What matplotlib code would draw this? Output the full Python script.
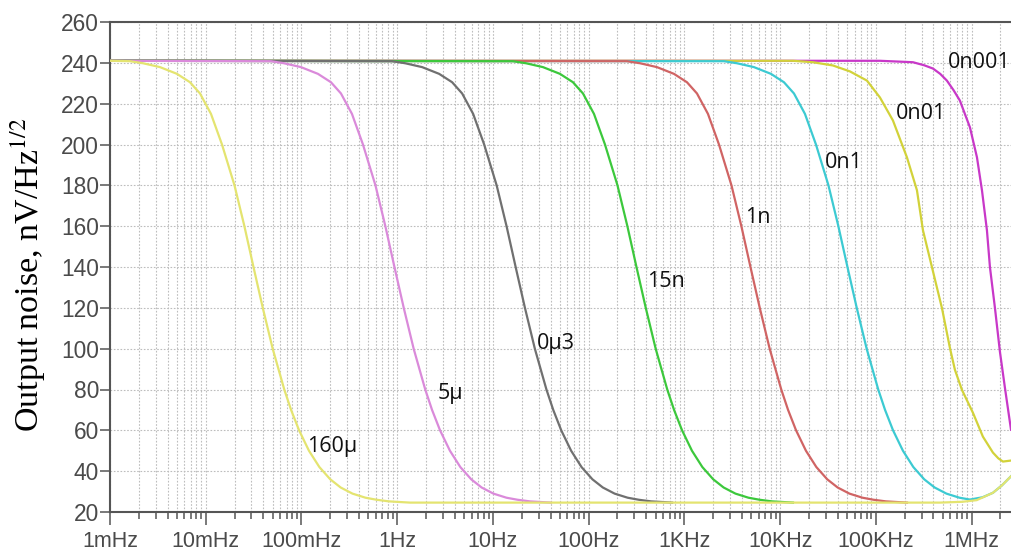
import numpy as np
import matplotlib.pyplot as plt
from matplotlib.ticker import FixedLocator, LogLocator, NullFormatter

# noise spectral density vs frequency for several filter capacitor values
f_160u = [1e-3, 1.617e-3, 2.211e-3, 3.328e-3, 5.009e-3, 6.844e-3, 8.709e-3, 11.345e-3, 14.787e-3,
          19.968e-3, 25.341e-3, 31.535e-3, 39.428e-3, 50.037e-3, 66.135e-3, 77.908e-3, 94.414e-3,
          0.11979, 0.15388, 0.19996, 0.25676, 0.34106, 0.46627, 0.60878, 0.82051, 1.3598,
          4.67e5, 8.0e5, 1.13e6, 1.67e6, 2.07e6, 2.58e6]
v_160u = [241, 240.8, 239.8, 237.9, 234.6, 230.5, 225, 215, 200, 180, 160, 140, 120, 100,
          80, 70, 60, 50, 42, 36, 32, 29, 27, 26, 25.2, 24.6,
          24.6, 25.0, 25.8, 29.4, 33.0, 37.5]

f_5u = [1e-3, 0.0480, 0.0656, 0.0988, 0.1487, 0.2032, 0.2585, 0.3368, 0.4389, 0.5927,
        0.7522, 0.9360, 1.1703, 1.4852, 1.9631, 2.3125, 2.8025, 3.5557, 4.5674, 5.9354,
        7.6212, 10.123, 13.840, 18.070, 24.355, 40.36]
v_5u = [241, 240.8, 239.8, 237.9, 234.6, 230.5, 225, 215, 200, 180, 160, 140, 120, 100,
        80, 70, 60, 50, 42, 36, 32, 29, 27, 26, 25.2, 24.6]

f_0u3 = [1e-3, 0.8857, 1.2108, 1.8224, 2.7429, 3.7481, 4.7693, 6.2128, 8.0978, 10.935,
         13.877, 17.269, 21.591, 27.401, 36.217, 42.664, 51.703, 65.600, 84.266, 109.50,
         140.61, 186.77, 255.34, 333.38, 449.33, 744.65]
v_0u3 = [241, 240.8, 239.8, 237.9, 234.6, 230.5, 225, 215, 200, 180, 160, 140, 120, 100,
         80, 70, 60, 50, 42, 36, 32, 29, 27, 26, 25.2, 24.6]

f_15n = [1e-3, 16.196, 22.141, 33.325, 50.157, 68.538, 87.212, 113.61, 148.08, 199.96,
         253.76, 315.79, 394.83, 501.07, 662.27, 780.17, 945.45, 1199.6, 1540.9, 2002.4,
         2571.1, 3415.4, 4669.2, 6096.3, 8216.5, 13617]
v_15n = [241, 240.8, 239.8, 237.9, 234.6, 230.5, 225, 215, 200, 180, 160, 140, 120, 100,
         80, 70, 60, 50, 42, 36, 32, 29, 27, 26, 25.2, 24.6]

f_1n = [1e-3, 251.3, 343.5, 517.0, 778.1, 1063.3, 1353.0, 1762.5, 2297.3, 3102.2,
        3936.9, 4899.2, 6125.4, 7773.6, 10275, 12104, 14668, 18610, 23906, 31066,
        39889, 52986, 72438, 94579, 127470, 211250]
v_1n = [241, 240.8, 239.8, 237.9, 234.6, 230.5, 225, 215, 200, 180, 160, 140, 120, 100,
        80, 70, 60, 50, 42, 36, 32, 29, 27, 26, 25.2, 24.6]

f_0n1 = [1e-3, 2590, 3540, 5329, 8020, 10959, 13945, 18166, 23677, 31973,
         40576, 50494, 63132, 80119, 105895, 124746, 151175, 191808, 246385, 320177,
         411118, 546105, 746588, 9.61e5, 1.3e6, 1.67e6, 2.07e6, 2.58e6]
v_0n1 = [241, 240.8, 239.8, 237.9, 234.6, 230.5, 225, 215, 200, 180, 160, 140, 120, 100,
         80, 70, 60, 50, 42, 36, 32, 29, 27, 26.1, 27.2, 29.4, 33.0, 37.5]

f_0n01 = [1e-3, 13620, 22000, 35650, 53600, 80700, 1.104e5, 1.507e5, 2.112e5, 2.686e5,
          3.104e5, 3.855e5, 4.90e5, 5.94e5, 6.70e5, 7.93e5, 1.033e6, 1.313e6, 1.67e6,
          1.9e6, 2.125e6, 2.58e6]
v_0n01 = [241, 241, 240.3, 238.7, 235.8, 231.3, 223.0, 211.8, 193.7, 177.6,
          158.0, 139.9, 119.9, 100.3, 89.6, 79.8, 68.6, 56.9, 49.1,
          46.3, 44.7, 45.2]

f_0n001 = [1e-3, 1.104e5, 2.44e5, 3.2e5, 3.95e5, 4.7e5, 5.52e5, 6.5e5, 7.55e5, 8.6e5,
           9.61e5, 1.138e6, 1.283e6, 1.446e6, 1.555e6, 1.754e6, 1.978e6, 2.230e6, 2.58e6]
v_0n001 = [241, 241, 240.3, 238.8, 237.2, 234.6, 231.3, 226.5, 221.5, 214.4,
           208.4, 193.7, 177.6, 158.0, 139.9, 119.9, 98.4, 80.8, 60.3]

labels = ['160µ', '5µ', '0µ3', '15n', '1n', '0n1', '0n01', '0n001']
colors = ['#e4e470', '#da8ada', '#707070', '#3cc83c', '#d06464', '#3ccad2', '#d2d23a', '#c838c8']
label_f = [0.114, 2.67, 28.8, 406, 4295, 29400, 1.62e5, 5.66e5]
label_v = [52.0, 77.9, 102.3, 133.1, 164.4, 191.3, 215.2, 240.2]

tick_f = [1e-3, 1e-2, 1e-1, 1, 10, 100, 1e3, 1e4, 1e5, 1e6]
tick_lbl = ['1mHz', '10mHz', '100mHz', '1Hz', '10Hz', '100Hz', '1KHz', '10KHz', '100KHz', '1MHz']
yticks = np.arange(20, 261, 20)

freqs = [f_160u, f_5u, f_0u3, f_15n, f_1n, f_0n1, f_0n01, f_0n001]
vals = [v_160u, v_5u, v_0u3, v_15n, v_1n, v_0n1, v_0n01, v_0n001]

plt.rcParams['mathtext.fontset'] = 'stix'

fig = plt.figure(figsize=(10.11, 5.51), dpi=100)
ax = fig.add_axes([110/1011, 39/551, 901/1011, 490/551])

# draw the highest corner frequency first so the lower ones sit on top
for i in reversed(range(len(labels))):
    ax.plot(freqs[i], vals[i], color=colors[i], lw=1.6, zorder=3 + (len(labels) - i) * 0.01,
            solid_joinstyle='round')
    ax.text(label_f[i], label_v[i], labels[i], fontsize=15.5, family='Open Sans',
            ha='left', va='center', color='#111111', zorder=5)

ax.set_xscale('log')
ax.set_xlim(1e-3, 2.58e6)
ax.set_ylim(20, 260)

ax.xaxis.set_major_locator(FixedLocator(tick_f))
ax.set_xticklabels(tick_lbl)
ax.xaxis.set_minor_locator(LogLocator(base=10, subs=np.arange(2, 10), numticks=30))
ax.xaxis.set_minor_formatter(NullFormatter())
ax.set_yticks(yticks)

grid_kw = dict(color='#bdbdbd', linestyle=(0, (1.5, 1.5)), linewidth=0.8)
ax.grid(True, which='both', axis='x', **grid_kw)
ax.grid(True, which='major', axis='y', **grid_kw)
ax.set_axisbelow(True)

for s in ['left', 'bottom', 'top']:
    ax.spines[s].set_color('#555555')
    ax.spines[s].set_linewidth(1.5)
ax.spines['right'].set_visible(False)

ax.tick_params(axis='x', which='major', length=9.5, width=1.1, color='#555555',
               labelsize=15.5, labelcolor='#4a4a4a', pad=4)
ax.tick_params(axis='x', which='minor', length=5, width=1.1, color='#555555')
ax.tick_params(axis='y', length=7, width=1.1, color='#555555',
               labelsize=16.4, labelcolor='#4a4a4a', pad=1)
for t in ax.get_xticklabels() + ax.get_yticklabels():
    t.set_family('Liberation Sans')

ax.text(-0.091, 0.484, r'Output noise, nV/Hz$^{\mathrm{1/2}}$', transform=ax.transAxes,
        rotation=90, ha='center', va='center', fontsize=24.5, family='Liberation Serif')

fig.savefig('out.png', dpi=100)
